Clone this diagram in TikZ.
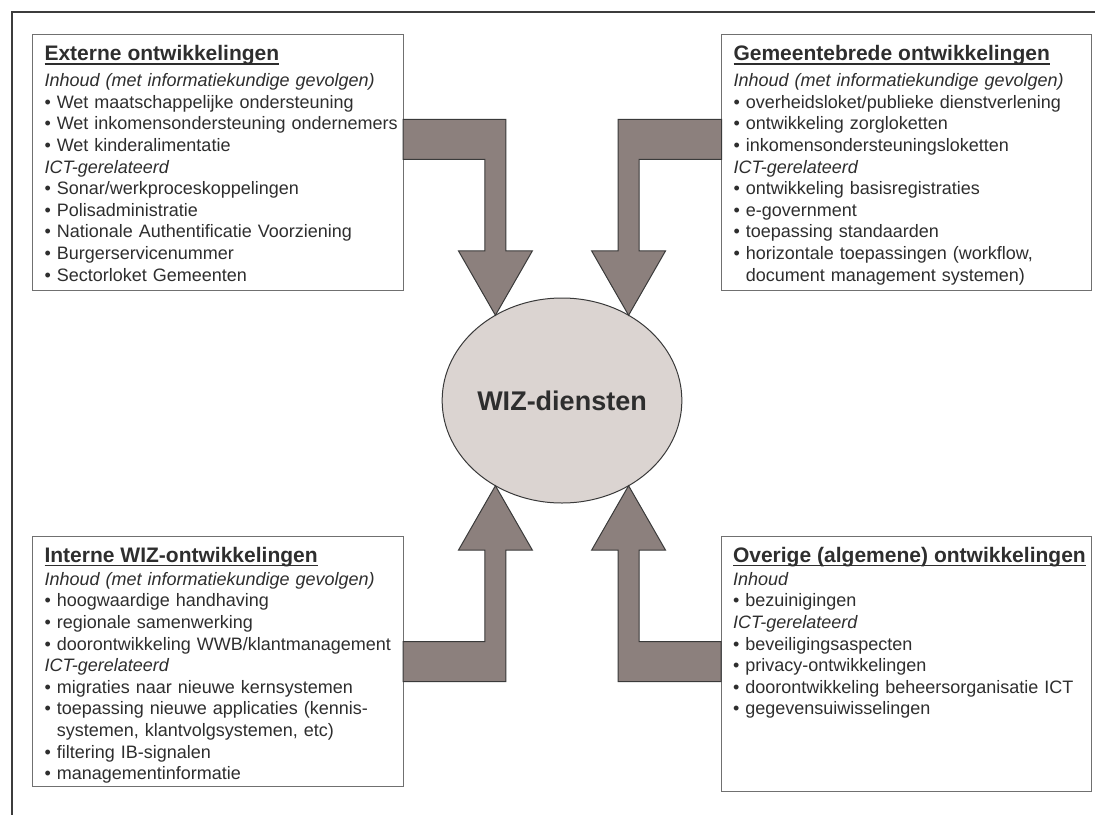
\documentclass[tikz,border=0pt]{standalone}
\usepackage{fontspec}
\setmainfont{Liberation Sans}
\usetikzlibrary{calc,shapes.geometric}
\setlength\parindent{0pt}

\definecolor{framegray}{HTML}{3C3C3C}
\definecolor{panelgray}{HTML}{707070}
\definecolor{inkgray}{HTML}{2E2E2E}
\definecolor{flowfill}{HTML}{8C807D}
\definecolor{flowline}{HTML}{3A3A3A}
\definecolor{corefill}{HTML}{DBD4D1}

% underlined bold heading of a panel
\newcommand\panelhead[1]{%
  \setbox0\hbox{\fontsize{21}{21.6}\selectfont\bfseries #1}%
  \rule{0pt}{20pt}\rlap{\rule[-4.1pt]{\wd0}{1.5pt}}\box0}
\newcommand\bul{\textbullet\ }
\newcommand\bulgap{\phantom{\textbullet\ }}

\tikzset{
  frameline/.style={draw=framegray, line width=2pt},
  panel/.style={draw=panelgray, line width=1pt, fill=white, rectangle,
    anchor=north west, inner sep=0pt, outer sep=0pt},
  paneltext/.style={anchor=north west, inner sep=0pt, outer sep=0pt,
    text width=380pt, align=left, text=inkgray,
    font=\fontsize{18}{21.6}\selectfont},
  core/.style={ellipse, draw=flowline, line width=1pt, fill=corefill,
    minimum width=232pt, minimum height=205pt, inner sep=0pt, outer sep=0pt,
    text=inkgray, font=\fontsize{27}{30}\selectfont\bfseries},
  flow/.style={fill=flowfill, draw=flowline, line width=1pt, line join=miter},
}

\begin{document}
\begin{tikzpicture}[x=1pt, y=-1pt]
\useasboundingbox (0,0) rectangle (1095,814);

% page frame (top and left edges)
\draw[frameline] (1096,12) -- (12,12) -- (12,815);

% the four panels
\node[panel, minimum width=370.5pt, minimum height=255.7pt] (ext) at (32.5,34.3) {};
\node[panel, minimum width=370.2pt, minimum height=255.7pt] (gem) at (721.5,34.3) {};
\node[panel, minimum width=370.5pt, minimum height=249.3pt] (int) at (32.5,536.7) {};
\node[panel, minimum width=370.5pt, minimum height=255pt]   (ovr) at (721.0,536.7) {};

\node[paneltext] (extT) at ($(ext.north west)+(12,6.4)$) {%
  \panelhead{Externe ontwikkelingen}\\[4.4pt]
  \textit{Inhoud (met informatiekundige gevolgen)}\\
  \bul Wet maatschappelijke ondersteuning\\
  \bul Wet inkomensondersteuning ondernemers\\
  \bul Wet kinderalimentatie\\
  \textit{ICT-gerelateerd}\\
  \bul Sonar/werkproceskoppelingen\\
  \bul Polisadministratie\\
  \bul Nationale Authentificatie Voorziening\\
  \bul Burgerservicenummer\\
  \bul Sectorloket Gemeenten};

\node[paneltext] (gemT) at ($(gem.north west)+(12,6.4)$) {%
  \panelhead{Gemeentebrede ontwikkelingen}\\[4.4pt]
  \textit{Inhoud (met informatiekundige gevolgen)}\\
  \bul overheidsloket/publieke dienstverlening\\
  \bul ontwikkeling zorgloketten\\
  \bul inkomensondersteuningsloketten\\
  \textit{ICT-gerelateerd}\\
  \bul ontwikkeling basisregistraties\\
  \bul e-government\\
  \bul toepassing standaarden\\
  \bul horizontale toepassingen (workflow,\\
  \bulgap document management systemen)};

\node[paneltext] (intT) at ($(int.north west)+(12,5.6)$) {%
  \panelhead{Interne WIZ-ontwikkelingen}\\[1.4pt]
  \textit{Inhoud (met informatiekundige gevolgen)}\\
  \bul hoogwaardige handhaving\\
  \bul regionale samenwerking\\
  \bul doorontwikkeling WWB/klantmanagement\\
  \textit{ICT-gerelateerd}\\
  \bul migraties naar nieuwe kernsystemen\\
  \bul toepassing nieuwe applicaties (kennis-\\
  \bulgap systemen, klantvolgsystemen, etc)\\
  \bul filtering IB-signalen\\
  \bul managementinformatie};

\node[paneltext] (ovrT) at ($(ovr.north west)+(12,5.6)$) {%
  \panelhead{Overige (algemene) ontwikkelingen}\\[1.4pt]
  \textit{Inhoud}\\
  \bul bezuinigingen\\
  \textit{ICT-gerelateerd}\\
  \bul beveiligingsaspecten\\
  \bul privacy-ontwikkelingen\\
  \bul doorontwikkeling beheersorganisatie ICT\\
  \bul gegevensuiwisselingen};

% central service
\node[core] (wiz) at (562,400.5) {WIZ-diensten};

% arrow tips on the ellipse
\coordinate (t1) at (wiz.128);
\coordinate (t2) at (wiz.52);
\coordinate (t3) at (wiz.232);
\coordinate (t4) at (wiz.308);

% block arrows: bar out of each panel, bent towards the centre
\filldraw[flow] let \p1=(t1), \p2=(ext.north east) in
  (\x2,\y2-85pt) -- (\x1+10.5pt,\y2-85pt) -- (\x1+10.5pt,\y1+64.5pt)
  -- (\x1+37pt,\y1+64.5pt) -- (\p1) -- (\x1-37pt,\y1+64.5pt)
  -- (\x1-10.5pt,\y1+64.5pt) -- (\x1-10.5pt,\y2-125pt) -- (\x2,\y2-125pt) -- cycle;

\filldraw[flow] let \p1=(t2), \p2=(gem.north west) in
  (\x2,\y2-85pt) -- (\x1-10.5pt,\y2-85pt) -- (\x1-10.5pt,\y1+64.5pt)
  -- (\x1-37pt,\y1+64.5pt) -- (\p1) -- (\x1+37pt,\y1+64.5pt)
  -- (\x1+10.5pt,\y1+64.5pt) -- (\x1+10.5pt,\y2-125pt) -- (\x2,\y2-125pt) -- cycle;

\filldraw[flow] let \p1=(t3), \p2=(int.north east) in
  (\x2,\y2-105pt) -- (\x1-10.5pt,\y2-105pt) -- (\x1-10.5pt,\y1-64.5pt)
  -- (\x1-37pt,\y1-64.5pt) -- (\p1) -- (\x1+37pt,\y1-64.5pt)
  -- (\x1+10.5pt,\y1-64.5pt) -- (\x1+10.5pt,\y2-145pt) -- (\x2,\y2-145pt) -- cycle;

\filldraw[flow] let \p1=(t4), \p2=(ovr.north west) in
  (\x2,\y2-105pt) -- (\x1+10.5pt,\y2-105pt) -- (\x1+10.5pt,\y1-64.5pt)
  -- (\x1+37pt,\y1-64.5pt) -- (\p1) -- (\x1-37pt,\y1-64.5pt)
  -- (\x1-10.5pt,\y1-64.5pt) -- (\x1-10.5pt,\y2-145pt) -- (\x2,\y2-145pt) -- cycle;
\end{tikzpicture}
\end{document}
